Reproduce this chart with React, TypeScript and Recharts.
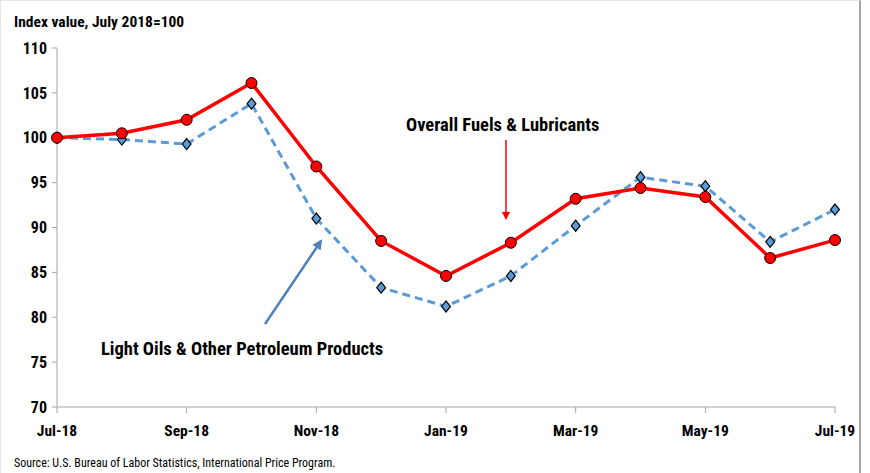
import { LineChart, Line, XAxis, YAxis } from 'recharts';

const months = ['Jul-18', 'Aug-18', 'Sep-18', 'Oct-18', 'Nov-18', 'Dec-18', 'Jan-19', 'Feb-19', 'Mar-19', 'Apr-19', 'May-19', 'Jun-19', 'Jul-19'];
const overallFuels = [100, 100.5, 102, 106.1, 96.8, 88.5, 84.6, 88.3, 93.2, 94.4, 93.4, 86.6, 88.6];
const lightOils = [100, 99.8, 99.3, 103.8, 91, 83.3, 81.2, 84.6, 90.2, 95.6, 94.6, 88.4, 92];
const yTicks = [70, 75, 80, 85, 90, 95, 100, 105, 110];

const data = months.map((m, i) => ({ month: m, overall: overallFuels[i], light: lightOils[i] }));

const FONT = '"Liberation Sans Narrow", "Roboto Condensed", "Open Sans", sans-serif';

function Diamond(props: any) {
  const { cx, cy, index } = props;
  if (cx == null || cy == null) return <g key={`d-${index}`} />;
  const s = 5.5;
  return (
    <path
      key={`d-${index}`}
      d={`M${cx},${cy - s} L${cx + s * 0.8},${cy} L${cx},${cy + s} L${cx - s * 0.8},${cy} Z`}
      fill="#5b9bd5"
      stroke="#000"
      strokeWidth={1.2}
    />
  );
}

export default function App() {
  return (
    <div style={{ position: 'absolute', left: 0, top: 0, width: 870, height: 473, background: '#fff', fontFamily: FONT }}>
      <div style={{ position: 'absolute', left: 0, top: 0, width: 861, height: 473, borderTop: '1px solid #e6e6e6', borderRight: '2px solid #a6a6a6', borderLeft: '1px solid #e6e6e6', boxSizing: 'border-box' }} />
      <LineChart width={870} height={473} data={data} margin={{ top: 48, right: 35, bottom: 36, left: 0 }}>
        <XAxis
          dataKey="month"
          interval={1}
          height={30}
          axisLine={{ stroke: '#a6a6a6' }}
          tickLine={{ stroke: '#a6a6a6' }}
          tickSize={6}
          tickMargin={12}
          tick={{ fill: '#000', fontSize: 15.5, fontWeight: 700, fontFamily: FONT }}
          padding={{ left: 0, right: 0 }}
        />
        <YAxis
          width={57}
          domain={[70, 110]}
          ticks={yTicks}
          interval={0}
          axisLine={{ stroke: '#a6a6a6' }}
          tickLine={{ stroke: '#a6a6a6' }}
          tickSize={5}
          tickMargin={5}
          tick={{ fill: '#000', fontSize: 16, fontWeight: 700, fontFamily: FONT }}
        />
        <Line
          dataKey="light"
          stroke="#5b9bd5"
          strokeWidth={3}
          strokeDasharray="8 5"
          dot={Diamond}
          isAnimationActive={false}
        />
        <Line
          dataKey="overall"
          stroke="#ff0000"
          strokeWidth={3.5}
          dot={{ r: 5.5, fill: '#ff0000', stroke: '#000', strokeWidth: 1 }}
          isAnimationActive={false}
        />
      </LineChart>
      <svg width={870} height={473} style={{ position: 'absolute', left: 0, top: 0, pointerEvents: 'none' }}>
        <defs>
          <marker id="redHead" markerWidth="8" markerHeight="8" refX="6" refY="4" orient="auto" markerUnits="userSpaceOnUse">
            <path d="M0,0 L8,4 L0,8 Z" fill="#ff0000" />
          </marker>
          <marker id="blueHead" markerWidth="10" markerHeight="10" refX="8" refY="5" orient="auto" markerUnits="userSpaceOnUse">
            <path d="M0,0 L10,5 L0,10 Z" fill="#4f81bd" />
          </marker>
        </defs>
        <text x={14} y={27} fontSize={15.5} fontWeight={700} fill="#000" fontFamily={FONT}>Index value, July 2018=100</text>
        <text x={406} y={131} fontSize={18.5} fontWeight={700} fill="#000" fontFamily={FONT}>Overall Fuels &amp; Lubricants</text>
        <line x1={506} y1={140} x2={506} y2={218} stroke="#ff0000" strokeWidth={1.5} markerEnd="url(#redHead)" />
        <text x={101} y={355} fontSize={18.5} fontWeight={700} fill="#000" fontFamily={FONT}>Light Oils &amp; Other Petroleum Products</text>
        <line x1={265} y1={324} x2={321} y2={241} stroke="#4f81bd" strokeWidth={2.5} markerEnd="url(#blueHead)" />
        <text x={14} y={467} fontSize={12} fill="#000" fontFamily={FONT}>Source: U.S. Bureau of Labor Statistics, International Price Program.</text>
      </svg>
    </div>
  );
}
